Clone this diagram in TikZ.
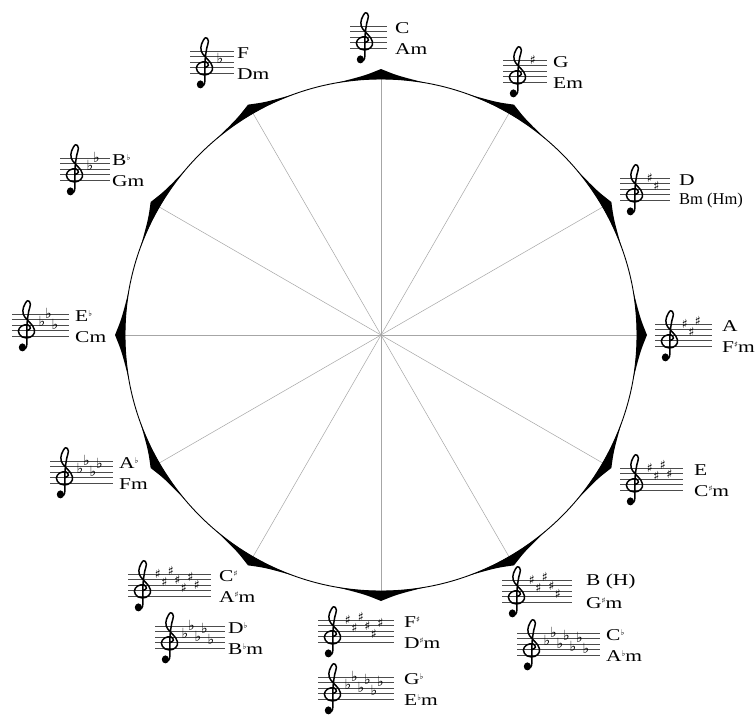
\documentclass[tikz,border=0pt]{standalone}
\usepackage{fontspec}
\setmainfont{Liberation Serif}
\newfontfamily\lab[FakeStretch=1.3]{Liberation Serif}
\newfontfamily\labn{Liberation Serif}
\newfontfamily\sym{DejaVu Sans}
\usetikzlibrary{calc}

\tikzset{
 staffline/.style={line width=0.6pt, black!70},
 clefline/.style={line width=1.5pt, line cap=round, line join=round},
 accsty/.style={inner sep=0pt, font=\sym\fontsize{12.5}{12.5}\selectfont},
 flatsty/.style={inner sep=0pt, font=\sym\fontsize{14}{14}\selectfont},
 lbl/.style={inner sep=0pt, anchor=west, font=\lab\fontsize{16.5}{16.5}\selectfont},
 lblnarrow/.style={inner sep=0pt, anchor=west, font=\labn\fontsize{16.5}{16.5}\selectfont},
 spoke/.style={black!35, line width=0.5pt},
 rim/.style={line width=0.9pt},
 marker/.style={fill=black},
}

\newcommand\upsh{\raisebox{5.5pt}{\sym\fontsize{8}{8}\selectfont ♯}}
\newcommand\upfl{\raisebox{5.5pt}{\sym\fontsize{8}{8}\selectfont ♭}}

% treble clef drawn as a shape; y=0 bottom staff line, y unit about one staff space
\newcommand\trebleclef[3]{% #1 name, #2 x centre, #3 y of bottom staff line
 \begin{scope}[shift={(#2,#3)}, x=8pt, y=5.7pt]
  \coordinate (#1) at (0,1);
  \draw[clefline] plot[smooth, tension=0.65] coordinates {(0.15,0.95) (0.55,1.35) (0.25,1.95) (-0.55,1.75) (-0.95,0.85) (-0.5,-0.15) (0.45,-0.25) (1.05,0.55) (0.85,1.75) (0.1,2.9) (-0.35,3.9) (-0.3,5.1) (0.2,6.2) (0.55,5.6) (0.35,4.4) (0.15,2.5) (0.1,0.5) (0.12,-1.3) (-0.05,-2.15) (-0.45,-2.3)};
  \fill (-0.45,-2.0) ellipse[x radius=0.45, y radius=0.7];
 \end{scope}
}

% #1 name, #2 staff left x, #3 major label y, #4 s/f, #5 count, #6 major, #7 minor, #8 text x, #9 minor label style
\newcommand\keygroup[9]{%
 \pgfmathsetmacro\kw{37+6.5*#5}%
 \pgfmathsetmacro\kbot{-(#3+20)}%
 \foreach \k in {0,...,4} \draw[staffline] (#2,\kbot+\k*5.5) -- ++(\kw,0);
 \trebleclef{#1clef}{#2+14}{\kbot}
 \ifnum#5>0
  \foreach \j in {1,...,#5}{%
   \ifx s#4 \pgfmathsetmacro\pp{{8,5,9,6,3,7,4}[\j-1]}%
     \node[accsty] (#1acc\j) at (#2+30+6.5*\j-6.5, \kbot+\pp*2.75) {♯};%
   \else \pgfmathsetmacro\pp{{4,7,3,6,2,5,1}[\j-1]}%
     \node[flatsty] (#1acc\j) at (#2+30+6.5*\j-6.5, \kbot+\pp*2.75+3.6) {♭};\fi
  }
 \fi
 \node[lbl] (#1maj) at (#8,-#3) {#6};
 \node[#9] (#1min) at (#8,-#3-21) {#7};
}

\begin{document}
\begin{tikzpicture}[x=1pt,y=1pt]
\fill[white] (0,0) rectangle (756,-724);
\useasboundingbox (0,0) rectangle (756,-724);

\coordinate (ctr) at (381,-335);
\foreach \a in {0,30,...,330} {
 \coordinate (rim\a) at ($(ctr)+(\a:256)$);
 \draw[spoke] (ctr) -- (rim\a);
}
\draw[rim] (ctr) circle[radius=256];
\foreach \a in {0,30,...,330} {
 \fill[marker] ($(ctr)+(\a-10:256)$) .. controls ($(ctr)+(\a-3.5:260)$) .. ($(ctr)+(\a:266)$)
   .. controls ($(ctr)+(\a+3.5:260)$) .. ($(ctr)+(\a+10:256)$)
   arc[start angle=\a+10, end angle=\a-10, radius=256];
}

\keygroup{c}{350}{28}{s}{0}{C}{Am}{395}{lbl}
\keygroup{g}{503}{62}{s}{1}{G}{Em}{553}{lbl}
\keygroup{d}{620}{180}{s}{2}{D}{Bm (Hm)}{679}{lblnarrow}
\keygroup{a}{655}{326}{s}{3}{A}{F\upsh m}{722}{lbl}
\keygroup{e}{620}{470}{s}{4}{E}{C\upsh m}{694}{lbl}
\keygroup{b}{502}{582}{s}{5}{B (H)}{G\upsh m}{586}{lbl}
\keygroup{fs}{318}{622}{s}{6}{F\upsh}{D\upsh m}{404}{lbl}
\keygroup{cs}{128}{576}{s}{7}{C\upsh}{A\upsh m}{219}{lbl}
\keygroup{cb}{517}{635}{f}{7}{C\upfl}{A\upfl m}{606}{lbl}
\keygroup{gb}{318}{679}{f}{6}{G\upfl}{E\upfl m}{404}{lbl}
\keygroup{db}{155}{628}{f}{5}{D\upfl}{B\upfl m}{228}{lbl}
\keygroup{ab}{50}{463}{f}{4}{A\upfl}{Fm}{119}{lbl}
\keygroup{eb}{12}{316}{f}{3}{E\upfl}{Cm}{75}{lbl}
\keygroup{bb}{60}{160}{f}{2}{B\upfl}{Gm}{112}{lbl}
\keygroup{f}{190}{53}{f}{1}{F}{Dm}{237}{lbl}
\end{tikzpicture}
\end{document}
